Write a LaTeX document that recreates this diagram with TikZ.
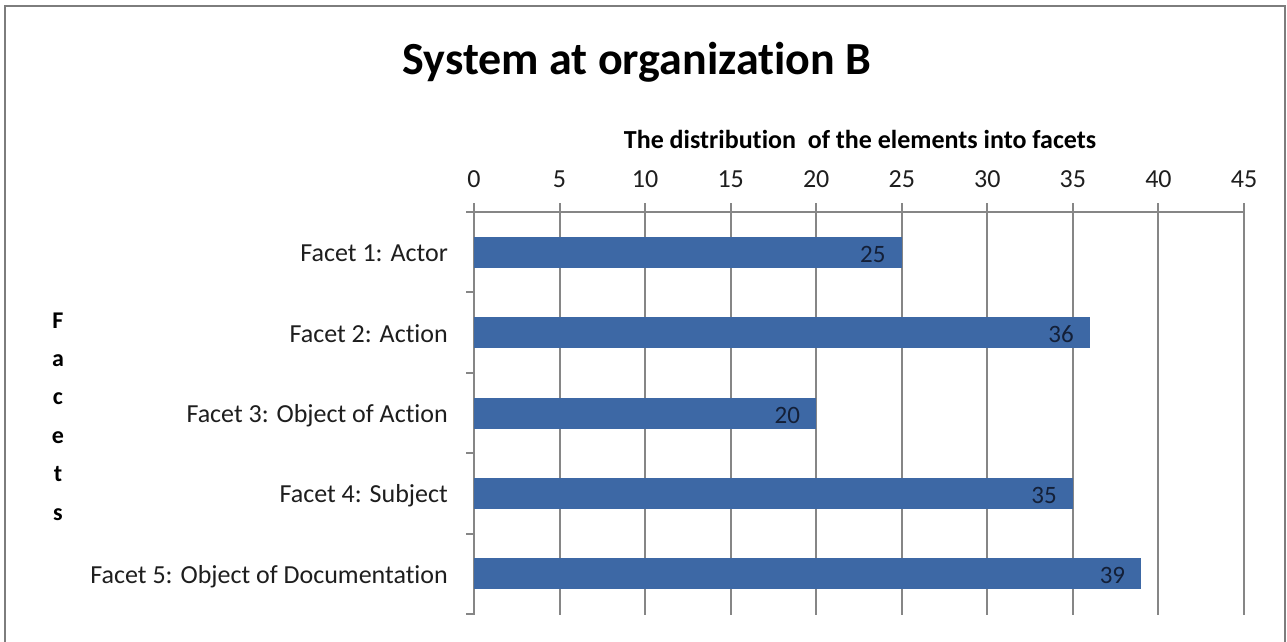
\documentclass[tikz,border=0pt]{standalone}
\usepackage{fontspec}
\setmainfont[Ligatures=NoCommon]{Carlito}
\definecolor{barblue}{RGB}{61,104,165}
\definecolor{gridgray}{RGB}{134,134,134}
\definecolor{framegray}{RGB}{125,125,125}
\definecolor{valnavy}{RGB}{20,32,56}
\definecolor{txt}{RGB}{30,30,30}
\tikzset{
  gridline/.style={draw=gridgray,line width=2pt},
  axisline/.style={draw=gridgray,line width=2pt},
  barbox/.style={fill=barblue,draw=none},
  catlabel/.style={anchor=base east,inner sep=0pt,text=txt,font=\fontsize{26}{30}\selectfont},
  ticklabel/.style={anchor=base,inner sep=0pt,text=txt,font=\fontsize{26}{30}\selectfont},
  vallabel/.style={anchor=base east,inner sep=0pt,text=valnavy,font=\fontsize{25}{30}\selectfont},
  titlelabel/.style={anchor=base,inner sep=0pt,text=black,font=\bfseries\fontsize{46}{52}\selectfont},
  axtitle/.style={anchor=base,inner sep=0pt,text=black,font=\bfseries\fontsize{26}{30}\selectfont},
  facetletter/.style={anchor=base,inner sep=0pt,text=black,font=\bfseries\fontsize{24}{28}\selectfont}
}
\begin{document}
\begin{tikzpicture}[x=1pt,y=-1pt]
\useasboundingbox (0,0) rectangle (1287,641);
\clip (0,0) rectangle (1287,641);
\fill[white] (0,0) rectangle (1287,641);
\draw[framegray,line width=2.5pt] (5,6) rectangle (1285,700);
% titles
\node[titlelabel] (title) at (637,74) {System at organization B};
\node[axtitle] (xtitle) at (860,148) {The distribution\ \ of the elements into facets};
% Facets letters
\foreach \l [count=\i] in {F,a,c,e,t,s}
  \node[facetletter] (fl\i) at (58,{328+38.4*(\i-1)}) {\l};
% grid and tick labels
\foreach \k in {0,...,9}{
  \pgfmathsetmacro{\xx}{474+85.556*\k}
  \pgfmathtruncatemacro{\vv}{5*\k}
  \draw[gridline] (\xx,203) -- (\xx,615);
  \node[ticklabel] (tl\k) at (\xx,187) {\vv};
}
\draw[axisline] (466,212) -- (1244,212);
\foreach \j in {1,...,5}
  \draw[axisline] (466,{212+80.4*\j}) -- (474,{212+80.4*\j});
% bars
\foreach \v/\name [count=\i] in {25/{Facet 1: Actor},36/{Facet 2: Action},20/{Facet 3: Object of Action},35/{Facet 4: Subject},39/{Facet 5: Object of Documentation}}{
  \pgfmathsetmacro{\cy}{212+80.4*(\i-0.5)}
  \pgfmathsetmacro{\xe}{474+17.111*\v}
  \fill[barbox] (474,\cy-15.5) rectangle (\xe,\cy+15.5);
  \node[vallabel] (val\i) at (\xe-16,\cy+10) {\v};
  \node[catlabel] (cat\i) at (448,\cy+9.5) {\name};
}
\end{tikzpicture}
\end{document}
